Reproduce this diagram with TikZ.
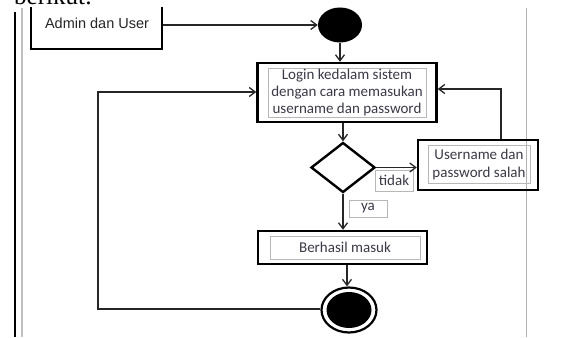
\documentclass[tikz,border=0pt]{standalone}
\usepackage{fontspec}
\setmainfont{Carlito}
\newfontfamily\arialfont{Liberation Sans}
\newfontfamily\seriffont{Liberation Serif}
\usetikzlibrary{shapes.geometric,arrows.meta}
\definecolor{txt}{HTML}{3A3A48}
\definecolor{inner}{HTML}{B8B8B8}
\tikzset{
  thickbox/.style={draw=black, line width=2.4pt, inner sep=0pt},
  innerbox/.style={draw=inner, line width=0.8pt, inner sep=0pt, align=center, text=txt, font=\fontsize{15}{17}\selectfont},
  conn/.style={draw=black!85, line width=1.5pt, -{Straight Barb[length=6pt,width=9pt,line width=1.3pt]}},
  lbl/.style={draw=inner, line width=0.6pt, inner sep=0pt, font=\fontsize{15}{16}\selectfont, text=txt, fill=white},
}
\begin{document}
\begin{tikzpicture}[x=1pt,y=-1pt]
\useasboundingbox (0,0) rectangle (585,337);
\fill[white] (0,0) rectangle (585,337);
\clip (0,0) rectangle (585,337);
\node[anchor=base west, inner sep=0pt, font=\seriffont\fontsize{25}{25}\selectfont] (intro) at (14,5) {berikut:};
\begin{scope}
\clip (0,8) rectangle (585,337);
% swimlane lines
\coordinate (l1a) at (15,12); \coordinate (l1b) at (15,337);
\coordinate (l2a) at (22,8); \coordinate (l2b) at (22,337);
\coordinate (l3a) at (526,8); \coordinate (l3b) at (526,337);
\draw[black, line width=1.4pt] (l1a) -- (l1b);
\draw[black!25, line width=1.6pt] (l2a) -- (l2b);
\draw[black!30, line width=1pt] (l3a) -- (l3b);
% nodes
\node[thickbox, minimum width=131pt, minimum height=60pt] (admin) at (96.5,19) {};
\node[text=black!85, font=\arialfont\fontsize{14.5}{16}\selectfont, inner sep=0pt] (admintxt) at (97,23) {Admin dan User};
\node[ellipse, fill=black, minimum width=44pt, minimum height=35pt, inner sep=0pt] (start) at (340,25) {};
\node[thickbox, minimum width=179pt, minimum height=59pt] (login) at (347,92.5) {};
\node[innerbox, minimum width=158pt, minimum height=49pt] (logintxt) at (347,92.5) {Login kedalam sistem\\dengan cara memasukan\\username dan password};
\node[diamond, draw=black, line width=2.4pt, minimum width=64pt, minimum height=50pt, inner sep=0pt] (dec) at (343,167.5) {};
\node[thickbox, minimum width=120pt, minimum height=50pt] (uname) at (478,165) {};
\node[innerbox, minimum width=102pt, minimum height=38pt, font=\fontsize{15}{18}\selectfont] (unametxt) at (479,164) {Username dan\\password salah};
\node[thickbox, minimum width=169pt, minimum height=33pt] (berhasil) at (342.5,247.5) {};
\node[innerbox, minimum width=150pt, minimum height=23pt] (berhasiltxt) at (345,247.5) {Berhasil masuk};
\node[ellipse, draw=black, line width=2.2pt, minimum width=55pt, minimum height=45pt, inner sep=0pt] (end) at (349,310) {};
\node[ellipse, fill=black, minimum width=45pt, minimum height=36pt, inner sep=0pt] (endin) at (349,310) {};
\node[lbl, minimum width=38pt, minimum height=21pt] (tidak) at (394,180.5) {tidak};
\node[lbl, minimum width=38pt, minimum height=17pt] (ya) at (368,208.5) {ya};
% connectors
\draw[conn] (admin.east|-start.west) -- (start.west);
\draw[conn] (start.south) -- (login.north-|start.south);
\draw[conn] (login.south-|dec.north) -- (dec.north);
\draw[conn] (dec.east) -- (uname.west|-dec.east);
\coordinate (ur) at (501,89);
\draw[conn] (uname.north-|ur) -- (ur) -- (login.east|-ur);
\draw[conn] (dec.south) -- (berhasil.north-|dec.south);
\draw[conn] (berhasil.south-|347,0) -- (end.north-|347,0);
\coordinate (lb) at (98,309);
\coordinate (lt) at (98,92);
\draw[conn] (end.west|-lb) -- (lb) -- (lt) -- (login.west|-lt);
\end{scope}
\end{tikzpicture}
\end{document}
